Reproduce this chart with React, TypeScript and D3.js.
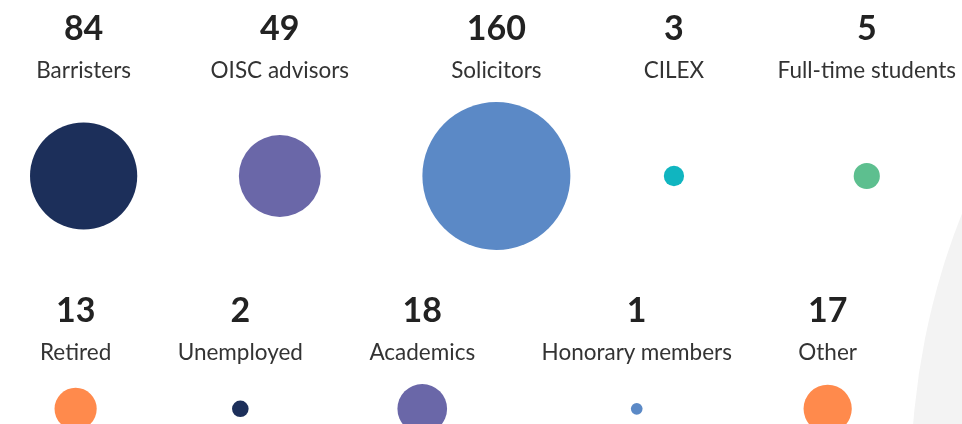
import * as d3 from 'd3';
import { useEffect, useRef } from 'react';

const labels = [
    'Barristers', 'OISC advisors', 'Solicitors', 'CILEX', 'Full-time students',
    'Retired', 'Unemployed', 'Academics', 'Honorary members', 'Other'
];
const values = [84, 49, 160, 3, 5, 13, 2, 18, 1, 17];
const colors = [
    '#1c2f5a', '#6a67a8', '#5b89c6', '#10b5c0', '#5dbf8f',
    '#ff8a4c', '#1c2f5a', '#6a67a8', '#5b89c6', '#ff8a4c'
];
const perRow = 5;

export default function App() {
    const ref = useRef<HTMLDivElement>(null);

    useEffect(() => {
        const width = 962;
        const height = 424;
        // left/right edge of each row of items
        const rowExtents = [[30, 956], [40, 857]];

        const rScale = d3.scaleSqrt().domain([0, 160]).range([0, 74]);

        const svg = d3
            .create('svg')
            .attr('width', width)
            .attr('height', height)
            .style('display', 'block');

        // big pale bubble peeking in from the right
        svg.append('circle')
            .attr('cx', 1633)
            .attr('cy', 480)
            .attr('r', 722)
            .attr('fill', '#f3f3f3');

        ref.current!.append(svg.node()!);

        const items = labels.map((label, i) => ({
            label,
            value: values[i],
            color: colors[i],
            row: Math.floor(i / perRow),
            r: rScale(values[i])
        }));

        const rows = d3.groups(items, d => d.row);
        let top = 0;

        rows.forEach(([row, rowItems]) => {
            const g = svg.append('g');
            const numY = top + 40;
            const labelY = top + 78;
            const maxR = d3.max(rowItems, d => d.r)!;
            const circleY = labelY + 24 + maxR;

            const groups = g.selectAll('g.item')
                .data(rowItems)
                .join('g')
                .attr('class', 'item');

            groups.append('text')
                .attr('font-family', 'Lato')
                .attr('font-weight', 700)
                .attr('font-size', 34)
                .attr('fill', '#222')
                .attr('text-anchor', 'middle')
                .attr('y', numY)
                .text(d => d.value);

            const labelText = groups.append('text')
                .attr('font-family', 'Lato')
                .attr('font-size', 22.5)
                .attr('fill', '#333')
                .attr('text-anchor', 'middle')
                .attr('y', labelY)
                .text(d => d.label);

            // flex-like layout: item width = max(label, circle), spread evenly
            const widths = labelText.nodes().map((n, i) =>
                Math.max((n as SVGTextElement).getComputedTextLength(), rowItems[i].r * 2));
            const [x0, x1] = rowExtents[row];
            const gap = (x1 - x0 - d3.sum(widths)) / (rowItems.length - 1);
            let x = x0;
            const centers = widths.map(w => {
                const c = x + w / 2;
                x += w + gap;
                return c;
            });

            groups.attr('transform', (d, i) => `translate(${centers[i]},0)`);

            groups.append('circle')
                .attr('cx', 0)
                .attr('cy', circleY)
                .attr('r', d => d.r)
                .attr('fill', d => d.color);

            top = circleY + maxR + 32;
        });
    }, []);

    return <div ref={ref} style={{ position: 'fixed', left: 0, top: 0 }}></div>;
}
